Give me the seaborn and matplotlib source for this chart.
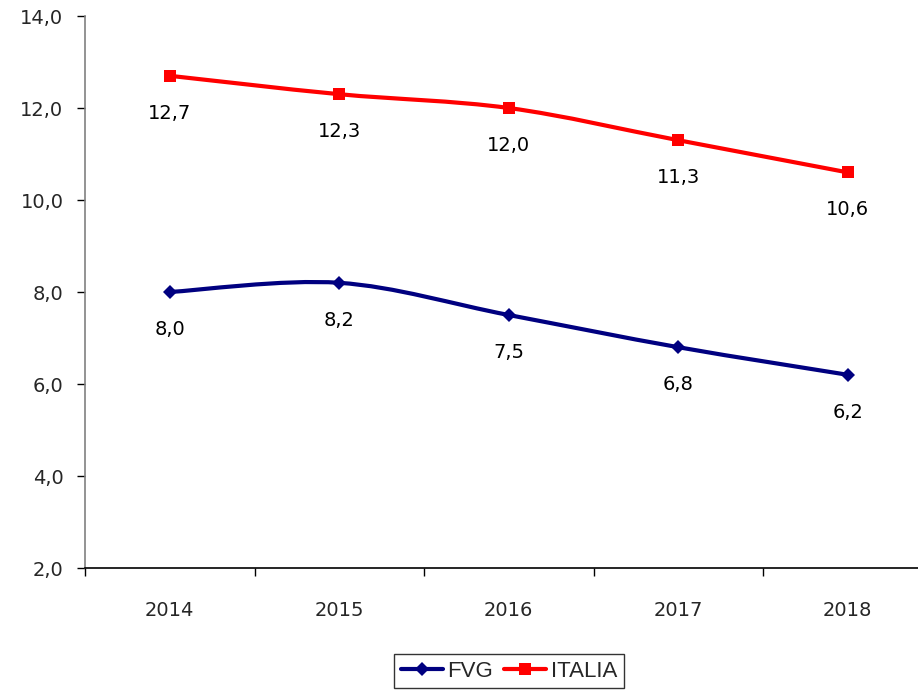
import numpy as np
import pandas as pd
import matplotlib
matplotlib.use("Agg")
import matplotlib.pyplot as plt
from matplotlib.path import Path
from matplotlib.patches import PathPatch
from matplotlib.lines import Line2D
from matplotlib import font_manager
import seaborn as sns

years = ["2014", "2015", "2016", "2017", "2018"]
fvg = [8.0, 8.2, 7.5, 6.8, 6.2]
italia = [12.7, 12.3, 12.0, 11.3, 10.6]
series_names = ["FVG", "ITALIA"]
series_colors = ["#000080", "#FF0000"]
series_markers = ["D", "s"]

sns.set_style("white")
plt.rcParams["font.family"] = ["DejaVu Sans"]

installed = {f.name for f in font_manager.fontManager.ttflist}
legend_font = "Liberation Sans Narrow" if "Liberation Sans Narrow" in installed else "Liberation Sans"


def smooth_path(xs, ys):
    # excel style smoothed line: bezier segments through every point
    pts = np.column_stack([xs, ys]).astype(float)
    verts = [pts[0]]
    codes = [Path.MOVETO]
    n = len(pts)
    for i in range(n - 1):
        p0 = pts[i - 1] if i > 0 else pts[i]
        p1 = pts[i]
        p2 = pts[i + 1]
        p3 = pts[i + 2] if i + 2 < n else pts[i + 1]
        c1 = p1 + (p2 - p0) / 6.0
        c2 = p2 - (p3 - p1) / 6.0
        verts += [c1, c2, p2]
        codes += [Path.CURVE4] * 3
    return Path(verts, codes)


df = pd.DataFrame({"year": years * 2,
                   "serie": [series_names[0]] * 5 + [series_names[1]] * 5,
                   "val": fvg + italia})
df["x"] = list(range(len(years))) * 2

fig = plt.figure(figsize=(9.18, 6.91), dpi=100)
W, H = 918, 691
ax = fig.add_axes([85 / W, 1 - 568 / H, 847.5 / W, 552 / H])

for name, col, mk in zip(series_names, series_colors, series_markers):
    sub = df[df["serie"] == name]
    patch = PathPatch(smooth_path(sub["x"], sub["val"]), facecolor="none",
                      edgecolor=col, lw=3, zorder=2, clip_on=False)
    ax.add_patch(patch)
    sns.lineplot(data=sub, x="x", y="val", ax=ax, color=col, marker=mk,
                 markersize=9 if mk == "s" else 7.5, markeredgewidth=0,
                 linestyle="none", zorder=3, legend=False)
    for xv, yv in zip(sub["x"], sub["val"]):
        ax.annotate(f"{yv:.1f}".replace(".", ","), (xv, yv), xytext=(0, -27),
                    textcoords="offset points", ha="center", va="center",
                    fontsize=14, color="black")

ax.set_xlim(-0.5, 4.5)
ax.set_ylim(2, 14)
ax.set_yticks(np.arange(2, 14.1, 2))
ax.set_yticklabels([f"{v:.1f}".replace(".", ",") for v in np.arange(2, 14.1, 2)])
ax.set_xticks(range(len(years)))
ax.set_xticklabels(years)
ax.set_xticks(np.arange(-0.5, 4.6, 1), minor=True)
ax.tick_params(axis="x", which="major", bottom=True, length=0, pad=24, labelsize=14)
ax.tick_params(axis="x", which="minor", bottom=True, length=6, width=1,
               color="black", direction="out")
ax.tick_params(axis="y", which="major", left=True, length=6, width=1,
               color="black", pad=9.5, labelsize=14, direction="out")
ax.set_xlabel("")
ax.set_ylabel("")
for s in ["top", "right"]:
    ax.spines[s].set_visible(False)
ax.spines["left"].set_color("#808080")
ax.spines["left"].set_linewidth(1.2)
ax.spines["bottom"].set_color("black")
ax.spines["bottom"].set_linewidth(1.2)

handles = [Line2D([0], [0], color=c, lw=3, marker=m,
                  markersize=9 if m == "s" else 7.5, markeredgewidth=0)
           for c, m in zip(series_colors, series_markers)]
fig.legend(handles, series_names, loc="upper center",
           bbox_to_anchor=(509 / W, 1 - 654 / H), borderaxespad=0, ncol=2,
           frameon=True, fancybox=False, edgecolor="black",
           handlelength=1.9, handletextpad=0.2, columnspacing=0.5,
           borderpad=0.3, prop={"family": legend_font, "size": 16})

fig.savefig("out.png", dpi=100)
